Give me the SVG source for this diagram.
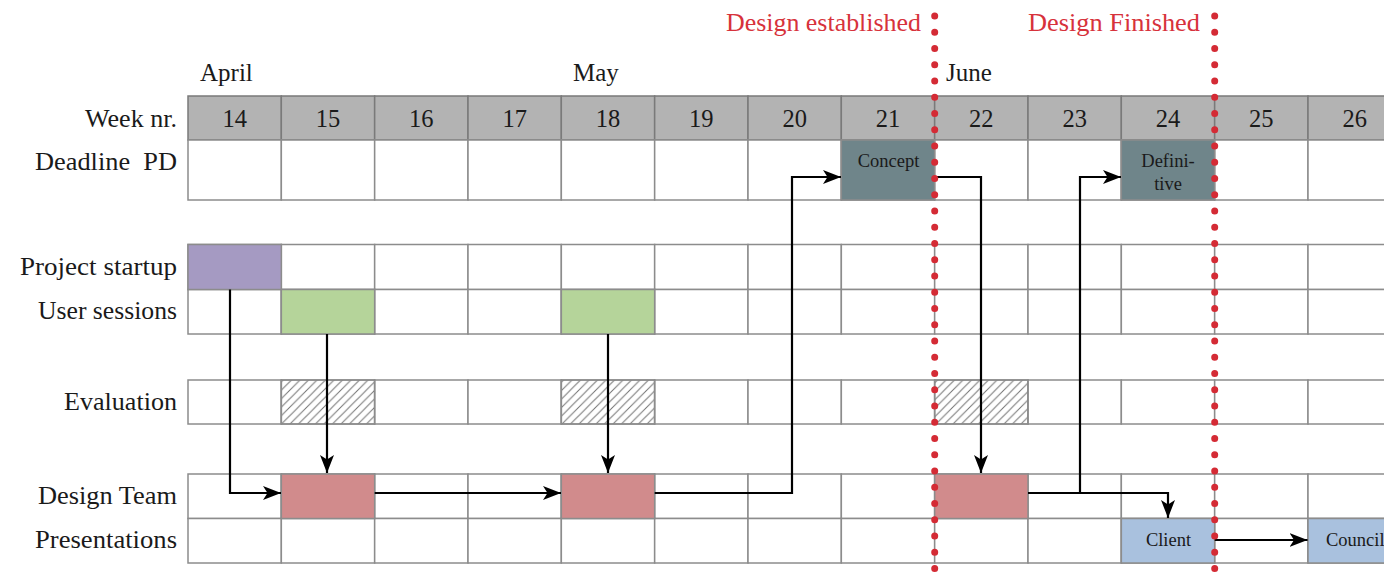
<svg xmlns="http://www.w3.org/2000/svg" width="1384" height="576" viewBox="0 0 1384 576">
<style>
.lbl{font-family:"Liberation Serif","DejaVu Serif",serif;font-size:25.5px;fill:#1a1a1a;text-anchor:end}
.mon{font-family:"Liberation Serif","DejaVu Serif",serif;font-size:25px;fill:#1a1a1a}
.wk{font-family:"Liberation Serif","DejaVu Serif",serif;font-size:24.5px;fill:#1a1a1a;text-anchor:middle}
.cell{fill:#ffffff;stroke:#8c8c8c;stroke-width:1.5}
.hdr{fill:#b3b3b3;stroke:#7a7a7a;stroke-width:1.5}
.small{font-family:"Liberation Serif","DejaVu Serif",serif;font-size:18.5px;fill:#1a1a1a;text-anchor:middle}
.red{font-family:"Liberation Serif","DejaVu Serif",serif;font-size:25px;fill:#d7323b;text-anchor:end}
.conn{fill:none;stroke:#000;stroke-width:2.2;marker-end:url(#arr)}
.dots{fill:none;stroke:#d42b35;stroke-width:7;stroke-linecap:round;stroke-dasharray:0 16.25}
</style>
<defs>
<marker id="arr" markerUnits="userSpaceOnUse" markerWidth="19" markerHeight="14" refX="18" refY="7" orient="auto">
<path d="M0,0 L18,7 L0,14 L4.5,7 z" fill="#000"/>
</marker>
<pattern id="hatch" patternUnits="userSpaceOnUse" width="8.5" height="8.5">
<path d="M-2,2 L2,-2 M0,8.5 L8.5,0 M6.5,10.5 L10.5,6.5" stroke="#707070" stroke-width="1"/>
</pattern>
</defs>
<rect width="1384" height="576" fill="#ffffff"/>

<g id="red-labels">
<text class="red" x="921" y="31" textLength="195" lengthAdjust="spacingAndGlyphs">Design established</text>
<text class="red" x="1200" y="31" textLength="172" lengthAdjust="spacingAndGlyphs">Design Finished</text>
</g>

<g id="months">
<text class="mon" x="200" y="81">April</text>
<text class="mon" x="573" y="81">May</text>
<text class="mon" x="946" y="81">June</text>
</g>

<g id="row-labels">
<text class="lbl" x="177" y="127" textLength="92" lengthAdjust="spacingAndGlyphs">Week nr.</text>
<text class="lbl" x="177" y="170" xml:space="preserve" textLength="142" lengthAdjust="spacingAndGlyphs">Deadline  PD</text>
<text class="lbl" x="177" y="275" textLength="157" lengthAdjust="spacingAndGlyphs">Project startup</text>
<text class="lbl" x="177" y="319" textLength="139" lengthAdjust="spacingAndGlyphs">User sessions</text>
<text class="lbl" x="177" y="410" textLength="113" lengthAdjust="spacingAndGlyphs">Evaluation</text>
<text class="lbl" x="177" y="504" textLength="139" lengthAdjust="spacingAndGlyphs">Design Team</text>
<text class="lbl" x="177" y="548" textLength="142" lengthAdjust="spacingAndGlyphs">Presentations</text>
</g>

<g id="header-row">
<rect class="hdr" x="188" y="96" width="93.33" height="44"/>
<rect class="hdr" x="281.33" y="96" width="93.33" height="44"/>
<rect class="hdr" x="374.67" y="96" width="93.33" height="44"/>
<rect class="hdr" x="468" y="96" width="93.33" height="44"/>
<rect class="hdr" x="561.33" y="96" width="93.33" height="44"/>
<rect class="hdr" x="654.67" y="96" width="93.33" height="44"/>
<rect class="hdr" x="748" y="96" width="93.33" height="44"/>
<rect class="hdr" x="841.33" y="96" width="93.33" height="44"/>
<rect class="hdr" x="934.67" y="96" width="93.33" height="44"/>
<rect class="hdr" x="1028" y="96" width="93.33" height="44"/>
<rect class="hdr" x="1121.33" y="96" width="93.33" height="44"/>
<rect class="hdr" x="1214.67" y="96" width="93.33" height="44"/>
<rect class="hdr" x="1308" y="96" width="93.33" height="44"/>
<text class="wk" x="234.7" y="127">14</text>
<text class="wk" x="328" y="127">15</text>
<text class="wk" x="421.3" y="127">16</text>
<text class="wk" x="514.7" y="127">17</text>
<text class="wk" x="608" y="127">18</text>
<text class="wk" x="701.3" y="127">19</text>
<text class="wk" x="794.7" y="127">20</text>
<text class="wk" x="888" y="127">21</text>
<text class="wk" x="981.3" y="127">22</text>
<text class="wk" x="1074.7" y="127">23</text>
<text class="wk" x="1168" y="127">24</text>
<text class="wk" x="1261.3" y="127">25</text>
<text class="wk" x="1354.7" y="127">26</text>
</g>

<g id="grid-cells">
<g id="row-deadline">
<rect class="cell" x="188" y="140" width="93.33" height="60"/><rect class="cell" x="281.33" y="140" width="93.33" height="60"/><rect class="cell" x="374.67" y="140" width="93.33" height="60"/><rect class="cell" x="468" y="140" width="93.33" height="60"/><rect class="cell" x="561.33" y="140" width="93.33" height="60"/><rect class="cell" x="654.67" y="140" width="93.33" height="60"/><rect class="cell" x="748" y="140" width="93.33" height="60"/><rect class="cell" x="841.33" y="140" width="93.33" height="60"/><rect class="cell" x="934.67" y="140" width="93.33" height="60"/><rect class="cell" x="1028" y="140" width="93.33" height="60"/><rect class="cell" x="1121.33" y="140" width="93.33" height="60"/><rect class="cell" x="1214.67" y="140" width="93.33" height="60"/><rect class="cell" x="1308" y="140" width="93.33" height="60"/>
</g>
<g id="row-startup">
<rect class="cell" x="188" y="244.5" width="93.33" height="45"/><rect class="cell" x="281.33" y="244.5" width="93.33" height="45"/><rect class="cell" x="374.67" y="244.5" width="93.33" height="45"/><rect class="cell" x="468" y="244.5" width="93.33" height="45"/><rect class="cell" x="561.33" y="244.5" width="93.33" height="45"/><rect class="cell" x="654.67" y="244.5" width="93.33" height="45"/><rect class="cell" x="748" y="244.5" width="93.33" height="45"/><rect class="cell" x="841.33" y="244.5" width="93.33" height="45"/><rect class="cell" x="934.67" y="244.5" width="93.33" height="45"/><rect class="cell" x="1028" y="244.5" width="93.33" height="45"/><rect class="cell" x="1121.33" y="244.5" width="93.33" height="45"/><rect class="cell" x="1214.67" y="244.5" width="93.33" height="45"/><rect class="cell" x="1308" y="244.5" width="93.33" height="45"/>
</g>
<g id="row-sessions">
<rect class="cell" x="188" y="289.5" width="93.33" height="44.5"/><rect class="cell" x="281.33" y="289.5" width="93.33" height="44.5"/><rect class="cell" x="374.67" y="289.5" width="93.33" height="44.5"/><rect class="cell" x="468" y="289.5" width="93.33" height="44.5"/><rect class="cell" x="561.33" y="289.5" width="93.33" height="44.5"/><rect class="cell" x="654.67" y="289.5" width="93.33" height="44.5"/><rect class="cell" x="748" y="289.5" width="93.33" height="44.5"/><rect class="cell" x="841.33" y="289.5" width="93.33" height="44.5"/><rect class="cell" x="934.67" y="289.5" width="93.33" height="44.5"/><rect class="cell" x="1028" y="289.5" width="93.33" height="44.5"/><rect class="cell" x="1121.33" y="289.5" width="93.33" height="44.5"/><rect class="cell" x="1214.67" y="289.5" width="93.33" height="44.5"/><rect class="cell" x="1308" y="289.5" width="93.33" height="44.5"/>
</g>
<g id="row-evaluation">
<rect class="cell" x="188" y="380" width="93.33" height="44"/><rect class="cell" x="281.33" y="380" width="93.33" height="44"/><rect class="cell" x="374.67" y="380" width="93.33" height="44"/><rect class="cell" x="468" y="380" width="93.33" height="44"/><rect class="cell" x="561.33" y="380" width="93.33" height="44"/><rect class="cell" x="654.67" y="380" width="93.33" height="44"/><rect class="cell" x="748" y="380" width="93.33" height="44"/><rect class="cell" x="841.33" y="380" width="93.33" height="44"/><rect class="cell" x="934.67" y="380" width="93.33" height="44"/><rect class="cell" x="1028" y="380" width="93.33" height="44"/><rect class="cell" x="1121.33" y="380" width="93.33" height="44"/><rect class="cell" x="1214.67" y="380" width="93.33" height="44"/><rect class="cell" x="1308" y="380" width="93.33" height="44"/>
</g>
<g id="row-design">
<rect class="cell" x="188" y="474" width="93.33" height="44.5"/><rect class="cell" x="281.33" y="474" width="93.33" height="44.5"/><rect class="cell" x="374.67" y="474" width="93.33" height="44.5"/><rect class="cell" x="468" y="474" width="93.33" height="44.5"/><rect class="cell" x="561.33" y="474" width="93.33" height="44.5"/><rect class="cell" x="654.67" y="474" width="93.33" height="44.5"/><rect class="cell" x="748" y="474" width="93.33" height="44.5"/><rect class="cell" x="841.33" y="474" width="93.33" height="44.5"/><rect class="cell" x="934.67" y="474" width="93.33" height="44.5"/><rect class="cell" x="1028" y="474" width="93.33" height="44.5"/><rect class="cell" x="1121.33" y="474" width="93.33" height="44.5"/><rect class="cell" x="1214.67" y="474" width="93.33" height="44.5"/><rect class="cell" x="1308" y="474" width="93.33" height="44.5"/>
</g>
<g id="row-presentations">
<rect class="cell" x="188" y="518.5" width="93.33" height="44.5"/><rect class="cell" x="281.33" y="518.5" width="93.33" height="44.5"/><rect class="cell" x="374.67" y="518.5" width="93.33" height="44.5"/><rect class="cell" x="468" y="518.5" width="93.33" height="44.5"/><rect class="cell" x="561.33" y="518.5" width="93.33" height="44.5"/><rect class="cell" x="654.67" y="518.5" width="93.33" height="44.5"/><rect class="cell" x="748" y="518.5" width="93.33" height="44.5"/><rect class="cell" x="841.33" y="518.5" width="93.33" height="44.5"/><rect class="cell" x="934.67" y="518.5" width="93.33" height="44.5"/><rect class="cell" x="1028" y="518.5" width="93.33" height="44.5"/><rect class="cell" x="1121.33" y="518.5" width="93.33" height="44.5"/><rect class="cell" x="1214.67" y="518.5" width="93.33" height="44.5"/><rect class="cell" x="1308" y="518.5" width="93.33" height="44.5"/>
</g>
</g>

<g id="node-concept">
<rect class="cell" x="841.33" y="140" width="93.33" height="60" style="fill:#6f858a"/>
<text class="small" x="888.5" y="167">Concept</text>
</g>
<g id="node-definitive">
<rect class="cell" x="1121.33" y="140" width="93.33" height="60" style="fill:#6f858a"/>
<text class="small" x="1168" y="167">Defini-</text>
<text class="small" x="1168" y="190">tive</text>
</g>
<g id="node-startup">
<rect class="cell" x="188" y="244.5" width="93.33" height="45" style="fill:#a59ac2"/>
</g>
<g id="node-session1">
<rect class="cell" x="281.33" y="289.5" width="93.33" height="44.5" style="fill:#b5d49a"/>
</g>
<g id="node-session2">
<rect class="cell" x="561.33" y="289.5" width="93.33" height="44.5" style="fill:#b5d49a"/>
</g>
<g id="node-eval1">
<rect class="cell" x="281.33" y="380" width="93.33" height="44" style="fill:url(#hatch)"/>
</g>
<g id="node-eval2">
<rect class="cell" x="561.33" y="380" width="93.33" height="44" style="fill:url(#hatch)"/>
</g>
<g id="node-eval3">
<rect class="cell" x="934.67" y="380" width="93.33" height="44" style="fill:url(#hatch)"/>
</g>
<g id="node-design1">
<rect class="cell" x="281.33" y="474" width="93.33" height="44.5" style="fill:#d18b8c"/>
</g>
<g id="node-design2">
<rect class="cell" x="561.33" y="474" width="93.33" height="44.5" style="fill:#d18b8c"/>
</g>
<g id="node-design3">
<rect class="cell" x="934.67" y="474" width="93.33" height="44.5" style="fill:#d18b8c"/>
</g>
<g id="node-client">
<rect class="cell" x="1121.33" y="518.5" width="93.33" height="44.5" style="fill:#a9c1de"/>
<text class="small" x="1168.5" y="546">Client</text>
</g>
<g id="node-council">
<rect class="cell" x="1308" y="518.5" width="93.33" height="44.5" style="fill:#a9c1de"/>
<text class="small" x="1326" y="546" style="text-anchor:start">Council</text>
</g>

<g id="connectors">
<path class="conn" d="M230,289.5 V493 H281"/>
<path class="conn" d="M327,334 V473"/>
<path class="conn" d="M374.7,493 H561"/>
<path class="conn" d="M608,334 V473"/>
<path class="conn" d="M654.7,493 H792 V177 H841"/>
<path class="conn" d="M934.7,177 H981 V473"/>
<path class="conn" d="M1028,493 H1168 V518"/>
<path class="conn" d="M1080,493 V177 H1121"/>
<path class="conn" d="M1214.7,540 H1307.5"/>
</g>

<g id="milestones">
<path class="dots" d="M934.7,16 V590"/>
<path class="dots" d="M1214.7,16 V590"/>
</g>
</svg>
